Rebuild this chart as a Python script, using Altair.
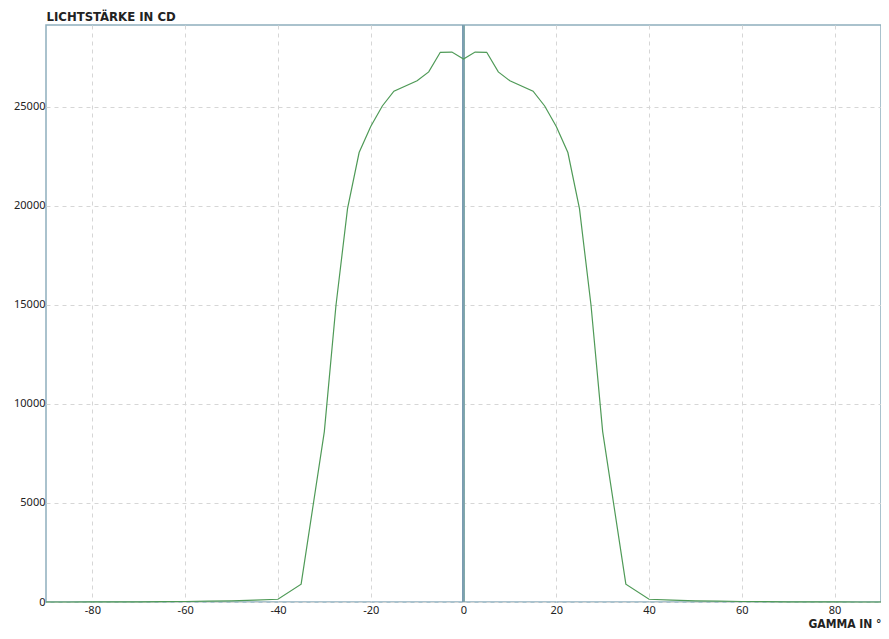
import altair as alt
import pandas as pd

gamma = [-90, -85, -80, -75, -70, -65, -60, -55, -50, -45, -40, -35, -30, -27.5, -25, -22.5, -20, -17.5, -15, -10, -7.5, -5, -2.5,
         0, 2.5, 5, 7.5, 10, 15, 17.5, 20, 22.5, 25, 27.5, 30, 35, 40, 45, 50, 55, 60, 65, 70, 75, 80, 85, 90]
intensity = [0, 1, 3, 5, 10, 15, 25, 40, 60, 90, 140, 900, 8600, 14950, 19850, 22680, 24000, 25030, 25780, 26300, 26750, 27740, 27750,
             27400, 27750, 27740, 26750, 26300, 25780, 25030, 24000, 22680, 19850, 14950, 8600, 900, 140, 90, 60, 40, 25, 15, 10, 5, 3, 1, 0]

df = pd.DataFrame({"gamma": gamma, "cd": intensity})

frame_col = "#8fafbd"
zero_col = "#7e9fb0"
label_font = "Noto Sans"
title_font = "DejaVu Sans Condensed"
W = 835
H = 577

x_enc = alt.X("gamma:Q", scale=alt.Scale(domain=[-90, 90], nice=False, zero=False),
              axis=alt.Axis(values=[-80, -60, -40, -20, 0, 20, 40, 60, 80], title="GAMMA IN °",
                            labelExpr="toString(datum.value)",
                            titleX=W, titleY=28, titleAlign="right", titleBaseline="bottom",
                            titleFont=title_font, titleFontWeight="bold", titleFontSize=12, titleColor="#222",
                            labelFont=label_font, labelFontSize=11, labelColor="#222", labelPadding=2,
                            ticks=False, domain=False, grid=True, gridDash=[4, 4], gridColor="#d6d6d6"))
y_enc = alt.Y("cd:Q", scale=alt.Scale(domain=[0, 29117], nice=False),
              axis=alt.Axis(values=[0, 5000, 10000, 15000, 20000, 25000], title="LICHTSTÄRKE IN CD",
                            labelExpr="toString(datum.value)",
                            titleX=0, titleY=-2, titleAngle=0, titleAlign="left", titleBaseline="bottom",
                            titleFont=title_font, titleFontWeight="bold", titleFontSize=13, titleColor="#222",
                            labelFont=label_font, labelFontSize=11, labelColor="#222", labelPadding=1,
                            ticks=False, domain=False, grid=True, gridDash=[4, 4], gridColor="#d6d6d6"))

line = alt.Chart(df).mark_line(color="#4f9a57", strokeWidth=1.2).encode(x=x_enc, y=y_enc)
zero = alt.Chart(df).mark_rule(color=zero_col, strokeWidth=1.1).encode(x=alt.datum(0))

chart = (alt.layer(zero, line)
         .properties(width=W, height=H,
                     autosize=alt.AutoSizeParams(type="none"),
                     padding={"left": 38, "top": 17, "right": 0, "bottom": 29})
         .configure_view(stroke=frame_col, strokeWidth=1.5))

chart.save("out.html", embed_options={"renderer": "svg", "actions": False})
